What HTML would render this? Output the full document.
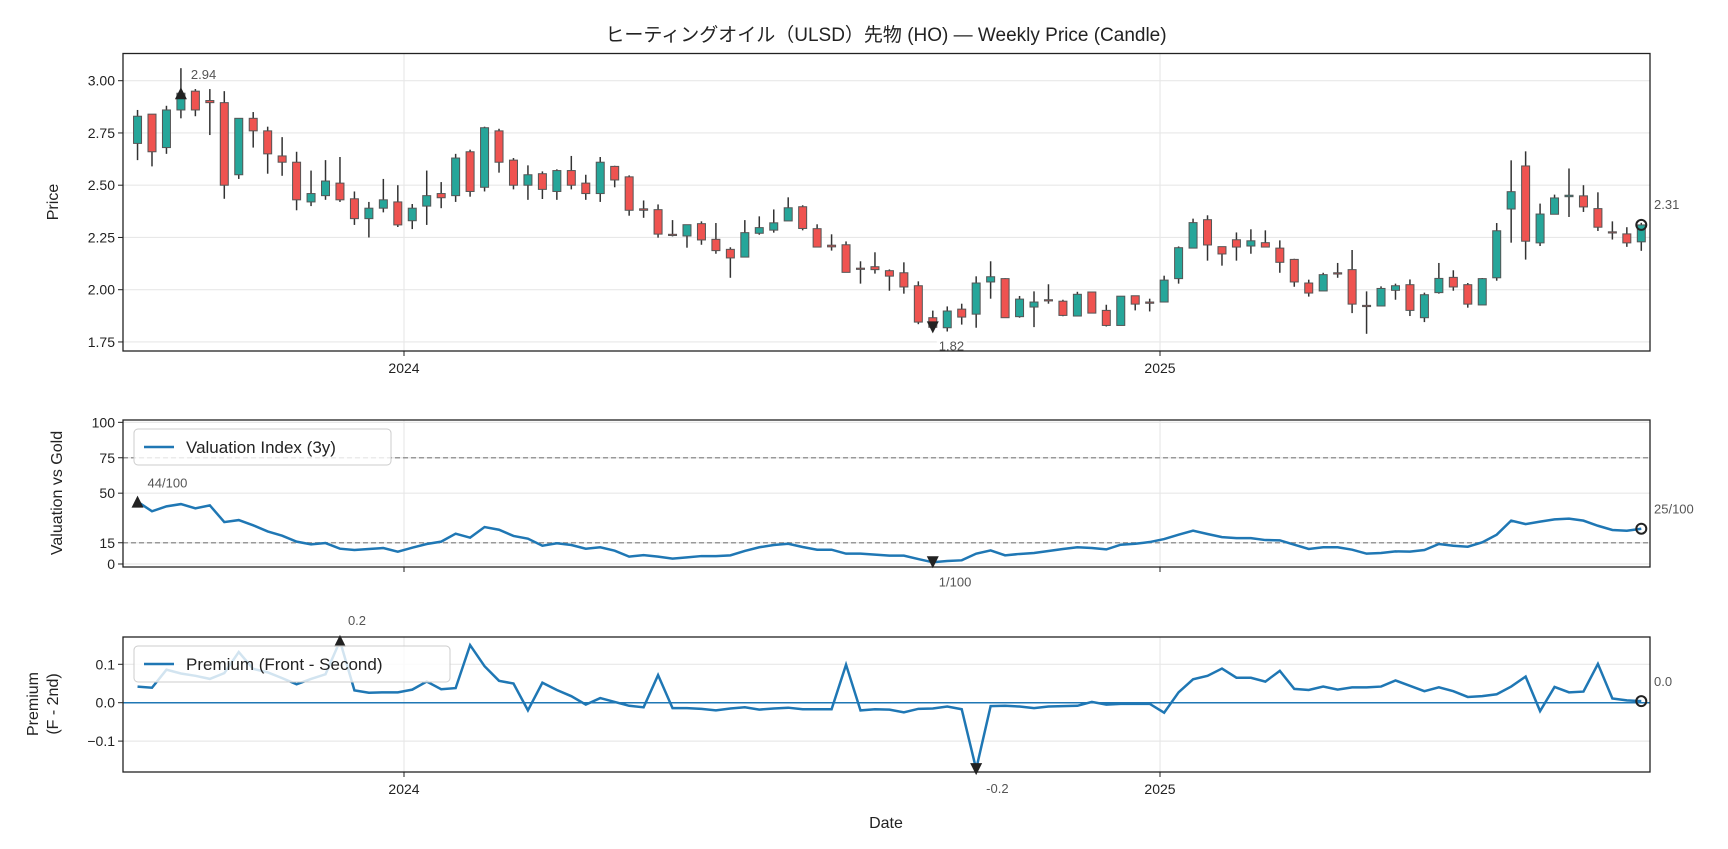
<!DOCTYPE html>
<html><head><meta charset="utf-8"><style>
html,body{margin:0;padding:0;background:#fff;}
svg{display:block;font-family:"Liberation Sans","Noto Sans CJK JP",sans-serif;}
</style></head><body>
<svg id="chart" width="1728" height="849" viewBox="0 0 1728 849" xmlns="http://www.w3.org/2000/svg">
<text x="886" y="41" text-anchor="middle" font-size="19" fill="#222">ヒーティングオイル（ULSD）先物 (HO) — Weekly Price (Candle)</text>
<g id="p1"></g>
<g id="p2"></g>
<g id="p3"></g>
<text x="886" y="828" text-anchor="middle" font-size="16" fill="#222">Date</text>
</svg>
<script>
const startDate = "2023-08-25";
const opens  = [2.70,2.84,2.68,2.86,2.95,2.905,2.895,2.55,2.82,2.76,2.64,2.61,2.42,2.45,2.51,2.435,2.34,2.39,2.42,2.33,2.40,2.46,2.45,2.66,2.49,2.76,2.62,2.50,2.555,2.47,2.57,2.51,2.46,2.59,2.54,2.387,2.383,2.265,2.257,2.316,2.241,2.193,2.156,2.270,2.285,2.329,2.397,2.292,2.213,2.215,2.103,2.110,2.091,2.081,2.019,1.866,1.818,1.907,1.883,2.037,2.053,1.871,1.917,1.952,1.945,1.874,1.989,1.901,1.829,1.971,1.941,1.941,2.053,2.199,2.335,2.206,2.239,2.209,2.225,2.199,2.145,2.032,1.994,2.081,2.096,1.925,1.922,1.997,2.024,1.866,1.986,2.059,2.024,1.927,2.057,2.386,2.592,2.224,2.361,2.445,2.449,2.388,2.277,2.267,2.229];
const highs  = [2.86,2.84,2.88,3.06,2.96,2.96,2.95,2.82,2.85,2.78,2.73,2.66,2.57,2.62,2.635,2.47,2.42,2.53,2.50,2.41,2.57,2.515,2.65,2.67,2.78,2.77,2.63,2.595,2.566,2.576,2.64,2.55,2.635,2.593,2.547,2.427,2.408,2.333,2.311,2.327,2.319,2.203,2.333,2.351,2.384,2.442,2.404,2.313,2.265,2.231,2.136,2.179,2.097,2.131,2.04,1.90,1.92,1.933,2.064,2.136,2.055,1.97,1.992,2.026,1.952,1.99,1.99,1.928,1.97,1.971,1.957,2.067,2.207,2.340,2.356,2.206,2.274,2.289,2.284,2.236,2.148,2.048,2.081,2.128,2.190,1.992,2.016,2.029,2.049,1.986,2.128,2.093,2.032,2.056,2.319,2.619,2.662,2.412,2.455,2.58,2.50,2.466,2.327,2.299,2.32];
const lows   = [2.62,2.59,2.65,2.82,2.83,2.74,2.435,2.53,2.68,2.555,2.545,2.38,2.40,2.43,2.42,2.31,2.25,2.37,2.30,2.29,2.31,2.39,2.42,2.445,2.47,2.56,2.48,2.43,2.434,2.43,2.48,2.43,2.42,2.49,2.354,2.344,2.249,2.255,2.201,2.215,2.172,2.057,2.156,2.263,2.273,2.329,2.284,2.204,2.187,2.083,2.029,2.077,1.995,1.981,1.835,1.81,1.80,1.833,1.818,1.957,1.866,1.866,1.821,1.933,1.873,1.874,1.888,1.824,1.829,1.901,1.896,1.941,2.029,2.199,2.139,2.115,2.139,2.172,2.204,2.081,2.014,1.967,1.994,2.057,1.888,1.789,1.922,1.952,1.874,1.845,1.981,1.995,1.914,1.927,2.043,2.225,2.144,2.209,2.361,2.348,2.372,2.281,2.24,2.205,2.186];
const closes = [2.83,2.66,2.86,2.94,2.86,2.895,2.50,2.82,2.76,2.65,2.61,2.43,2.46,2.52,2.43,2.34,2.39,2.43,2.31,2.39,2.45,2.44,2.63,2.47,2.775,2.61,2.50,2.55,2.48,2.57,2.50,2.46,2.61,2.525,2.38,2.38,2.266,2.262,2.311,2.238,2.187,2.152,2.273,2.297,2.320,2.392,2.293,2.204,2.205,2.083,2.098,2.096,2.065,2.013,1.845,1.82,1.898,1.869,2.032,2.062,1.866,1.955,1.941,1.948,1.877,1.978,1.888,1.829,1.969,1.931,1.935,2.046,2.201,2.321,2.214,2.171,2.204,2.234,2.204,2.131,2.037,1.984,2.072,2.075,1.931,1.920,2.006,2.019,1.901,1.976,2.054,2.013,1.931,2.053,2.282,2.469,2.232,2.362,2.439,2.452,2.396,2.299,2.273,2.224,2.31];
const valuation = [44,37.2,40.7,42.3,39.3,41.4,29.6,31.0,27.3,23.0,20.0,15.8,13.9,14.8,10.8,9.9,10.6,11.3,8.7,11.5,14.1,15.8,21.4,18.6,26.1,24.2,19.8,17.9,12.9,14.6,13.4,10.8,11.8,9.4,5.2,6.3,5.2,3.8,4.7,5.6,5.6,6.1,9.2,11.8,13.4,14.3,12.0,10.1,10.1,7.3,7.3,6.6,5.9,5.9,3.5,1.2,2.1,2.6,7.3,9.6,6.1,7.1,7.8,9.2,10.6,11.8,11.3,10.3,13.6,14.3,15.5,17.6,20.7,23.5,21.2,19.0,18.3,18.3,16.9,16.7,13.6,10.6,11.8,11.8,10.1,7.3,7.8,8.9,8.7,9.9,14.1,12.9,12.2,15.3,20.7,30.6,28.2,29.9,31.5,32.0,30.6,27.0,24.0,23.5,24.9];
const premium = [.042,.039,.086,.076,.070,.062,.077,.132,.088,.079,.064,.048,.062,.074,.161,.032,.026,.027,.027,.034,.055,.035,.038,.150,.095,.057,.050,-.020,.052,.033,.017,-.005,.012,.002,-.008,-.012,.072,-.014,-.014,-.016,-.020,-.015,-.012,-.018,-.015,-.013,-.017,-.017,-.017,.099,-.020,-.017,-.018,-.025,-.016,-.015,-.010,-.017,-.173,-.009,-.008,-.010,-.014,-.010,-.009,-.008,.002,-.005,-.003,-.003,-.003,-.026,.027,.061,.070,.089,.065,.065,.055,.083,.036,.033,.042,.034,.040,.040,.042,.058,.044,.030,.040,.030,.015,.017,.022,.042,.068,-.022,.041,.027,.029,.101,.011,.006,.004];
const priceTicks = [3.00,2.75,2.50,2.25,2.00,1.75];
const priceTickLabels = ["3.00","2.75","2.50","2.25","2.00","1.75"];
const valTicks = [0,15,50,75,100];
const valTickLabels = ["0","15","50","75","100"];
const premTicks = [0.1,0,-0.1];
const premTickLabels = ["0.1","0.0","−0.1"];
const yearTicks = ["2024-01-01","2025-01-01"];
const yearLabels = ["2024","2025"];

const NS="http://www.w3.org/2000/svg";
function mk(parent,tag,attrs){const e=document.createElementNS(NS,tag);for(const k in attrs)e.setAttribute(k,attrs[k]);parent.appendChild(e);return e;}
const DAY=86400000, REF=Date.UTC(2024,0,1);
function dnum(s){const p=s.split("-");return (Date.UTC(+p[0],+p[1]-1,+p[2])-REF)/DAY;}
const X0=123,X1=1650;
function xs(t){return 404+t*2.0656;}
const t0=dnum(startDate);
const dates=closes.map((_,i)=>t0+7*i);
function y1(v){return 80.7+(3-v)*209;}
function y2(v){return 564.0-v*1.4166;}
function y3(v){return 702.7-v*384;}
const P=[{g:document.getElementById('p1'),top:53.5,bot:351,ys:y1,ticks:priceTicks,labels:priceTickLabels},
         {g:document.getElementById('p2'),top:420,bot:567,ys:y2,ticks:valTicks,labels:valTickLabels},
         {g:document.getElementById('p3'),top:637,bot:772,ys:y3,ticks:premTicks,labels:premTickLabels}];
P.forEach((p,pi)=>{
  const bg=mk(p.g,'rect',{x:X0,y:p.top,width:X1-X0,height:p.bot-p.top,fill:'#fff'});
  
  
  p.ticks.forEach((v,i)=>{
    const y=p.ys(v);
    const gl=mk(p.g,'line',{x1:X0,x2:X1,y1:y,y2:y,stroke:'#e8e8e8','stroke-width':1.2});
    
    
    mk(p.g,'line',{x1:X0-5,x2:X0,y1:y,y2:y,stroke:'#222','stroke-width':1});
    const t=mk(p.g,'text',{x:X0-8,y:y+5,'text-anchor':'end','font-size':14,fill:'#222'});
    t.textContent=p.labels[i];
    
    
  });
  yearTicks.forEach((d,i)=>{
    const x=xs(dnum(d));
    const gl=mk(p.g,'line',{x1:x,x2:x,y1:p.top,y2:p.bot,stroke:'#e8e8e8','stroke-width':1.2});
    
    
    mk(p.g,'line',{x1:x,x2:x,y1:p.bot,y2:p.bot+5,stroke:'#222','stroke-width':1});
    if(pi!==1){
      const t=mk(p.g,'text',{x:x,y:p.bot+22,'text-anchor':'middle','font-size':14,fill:'#222'});
      t.textContent=yearLabels[i];
      
      
    }
  });
});
const g1=P[0].g;
closes.forEach((c,i)=>{
  const x=xs(dates[i]),o=opens[i],up=c>=o;
  const w=mk(g1,'line',{x1:x,x2:x,y1:y1(highs[i]),y2:y1(lows[i]),stroke:'#333','stroke-width':1.5});
  
  
  const top=y1(Math.max(o,c)),h=Math.max(1.2,Math.abs(y1(o)-y1(c)));
  const b=mk(g1,'rect',{x:x-4,y:top,width:8,height:h,fill:up?'#26a69a':'#ef5350',stroke:'#555','stroke-width':1});
  
  
});
function tri(g,x,y,down){const s=6;const pts=down?`${x-s},${y-s} ${x+s},${y-s} ${x},${y+s}`:`${x-s},${y+s} ${x+s},${y+s} ${x},${y-s}`;return mk(g,'polygon',{points:pts,fill:'#222'});}
function label(g,x,y,txt,name,anchor,bgw){
  if(bgw){mk(g,'rect',{x:x-2,y:y-13,width:bgw,height:16,fill:'#fff',opacity:0.8});}
  const t=mk(g,'text',{x:x,y:y,'font-size':13,fill:'#555','text-anchor':anchor||'start'});t.textContent=txt;
  
  return t;}
function extremes(arr){let mx=0,mn=0;arr.forEach((v,i)=>{if(v>arr[mx])mx=i;if(v<arr[mn])mn=i;});return [mx,mn];}
let [mx,mn]=extremes(closes);
let m=tri(g1,xs(dates[mx]),y1(closes[mx]),false);
label(g1,xs(dates[mx])+10,y1(closes[mx])-14,closes[mx].toFixed(2),'max-label');
m=tri(g1,xs(dates[mn]),y1(closes[mn]),true);
label(g1,xs(dates[mn])+6,y1(closes[mn])+23,closes[mn].toFixed(2),'min-label','start',30);
let L=closes.length-1;
m=mk(g1,'circle',{cx:xs(dates[L]),cy:y1(closes[L]),r:5,fill:'none',stroke:'#222','stroke-width':2});
label(g1,1654,y1(closes[L])-16,closes[L].toFixed(2),'last-label');
const g2=P[1].g;
[75,15].forEach(v=>{const d=mk(g2,'line',{x1:X0,x2:X1,y1:y2(v),y2:y2(v),stroke:'#999','stroke-width':1.4,'stroke-dasharray':'5,3'});});
let pl=mk(g2,'polyline',{points:valuation.map((v,i)=>xs(dates[i])+','+y2(v)).join(' '),fill:'none',stroke:'#1f77b4','stroke-width':2.5});

[mx,mn]=extremes(valuation);
m=tri(g2,xs(dates[mx]),y2(valuation[mx]),false);
label(g2,xs(dates[mx])+10,y2(valuation[mx])-14,Math.round(valuation[mx])+'/100','val-max-label');
m=tri(g2,xs(dates[mn]),y2(valuation[mn]),true);
label(g2,xs(dates[mn])+6,y2(valuation[mn])+24,Math.round(valuation[mn])+'/100','val-min-label');
m=mk(g2,'circle',{cx:xs(dates[L]),cy:y2(valuation[L]),r:5,fill:'none',stroke:'#222','stroke-width':2});
label(g2,1654,y2(valuation[L])-15,Math.round(valuation[L])+'/100','val-last-label');
const g3=P[2].g;
let zl=mk(g3,'line',{x1:X0,x2:X1,y1:y3(0),y2:y3(0),stroke:'#1f77b4','stroke-width':1.5});
pl=mk(g3,'polyline',{points:premium.map((v,i)=>xs(dates[i])+','+y3(v)).join(' '),fill:'none',stroke:'#1f77b4','stroke-width':2.5});

[mx,mn]=extremes(premium);
m=tri(g3,xs(dates[mx]),y3(premium[mx]),false);
label(g3,xs(dates[mx])+8,y3(premium[mx])-16,premium[mx].toFixed(1),'prem-max-label');
m=tri(g3,xs(dates[mn]),y3(premium[mn]),true);
label(g3,xs(dates[mn])+10,y3(premium[mn])+24,premium[mn].toFixed(1),'prem-min-label');
m=mk(g3,'circle',{cx:xs(dates[L]),cy:y3(premium[L]),r:5,fill:'none',stroke:'#222','stroke-width':2});
label(g3,1654,y3(premium[L])-15,premium[L].toFixed(1),'prem-last-label');
function legend(g,x,y,w,txt,name){
  const r=mk(g,'rect',{x:x,y:y,width:w,height:36,rx:4,fill:'#fff','fill-opacity':0.8,stroke:'#ccc','stroke-width':1});
  
  mk(g,'line',{x1:x+10,x2:x+40,y1:y+18,y2:y+18,stroke:'#1f77b4','stroke-width':2.5});
  const t=mk(g,'text',{x:x+52,y:y+24,'font-size':17,fill:'#222'});t.textContent=txt;
  }
legend(g2,134,429,257,'Valuation Index (3y)','valuation-legend');
legend(g3,134,646,316,'Premium (Front - Second)','premium-legend');
P.forEach(p=>{const f=mk(p.g,'rect',{x:X0,y:p.top,width:X1-X0,height:p.bot-p.top,fill:'none',stroke:'#222','stroke-width':1.3});});
function ylab(g,x,y,txt,name){const t=mk(g,'text',{x:x,y:y,'font-size':16,fill:'#222','text-anchor':'middle',transform:`rotate(-90 ${x} ${y})`});t.textContent=txt;}
ylab(g1,58,202,'Price','price-y-title');
ylab(g2,62,493,'Valuation vs Gold','valuation-y-title');
ylab(g3,38,704,'Premium','premium-y-title');
ylab(g3,58,704,'(F - 2nd)','premium-y-subtitle');
</script>
</body></html>
